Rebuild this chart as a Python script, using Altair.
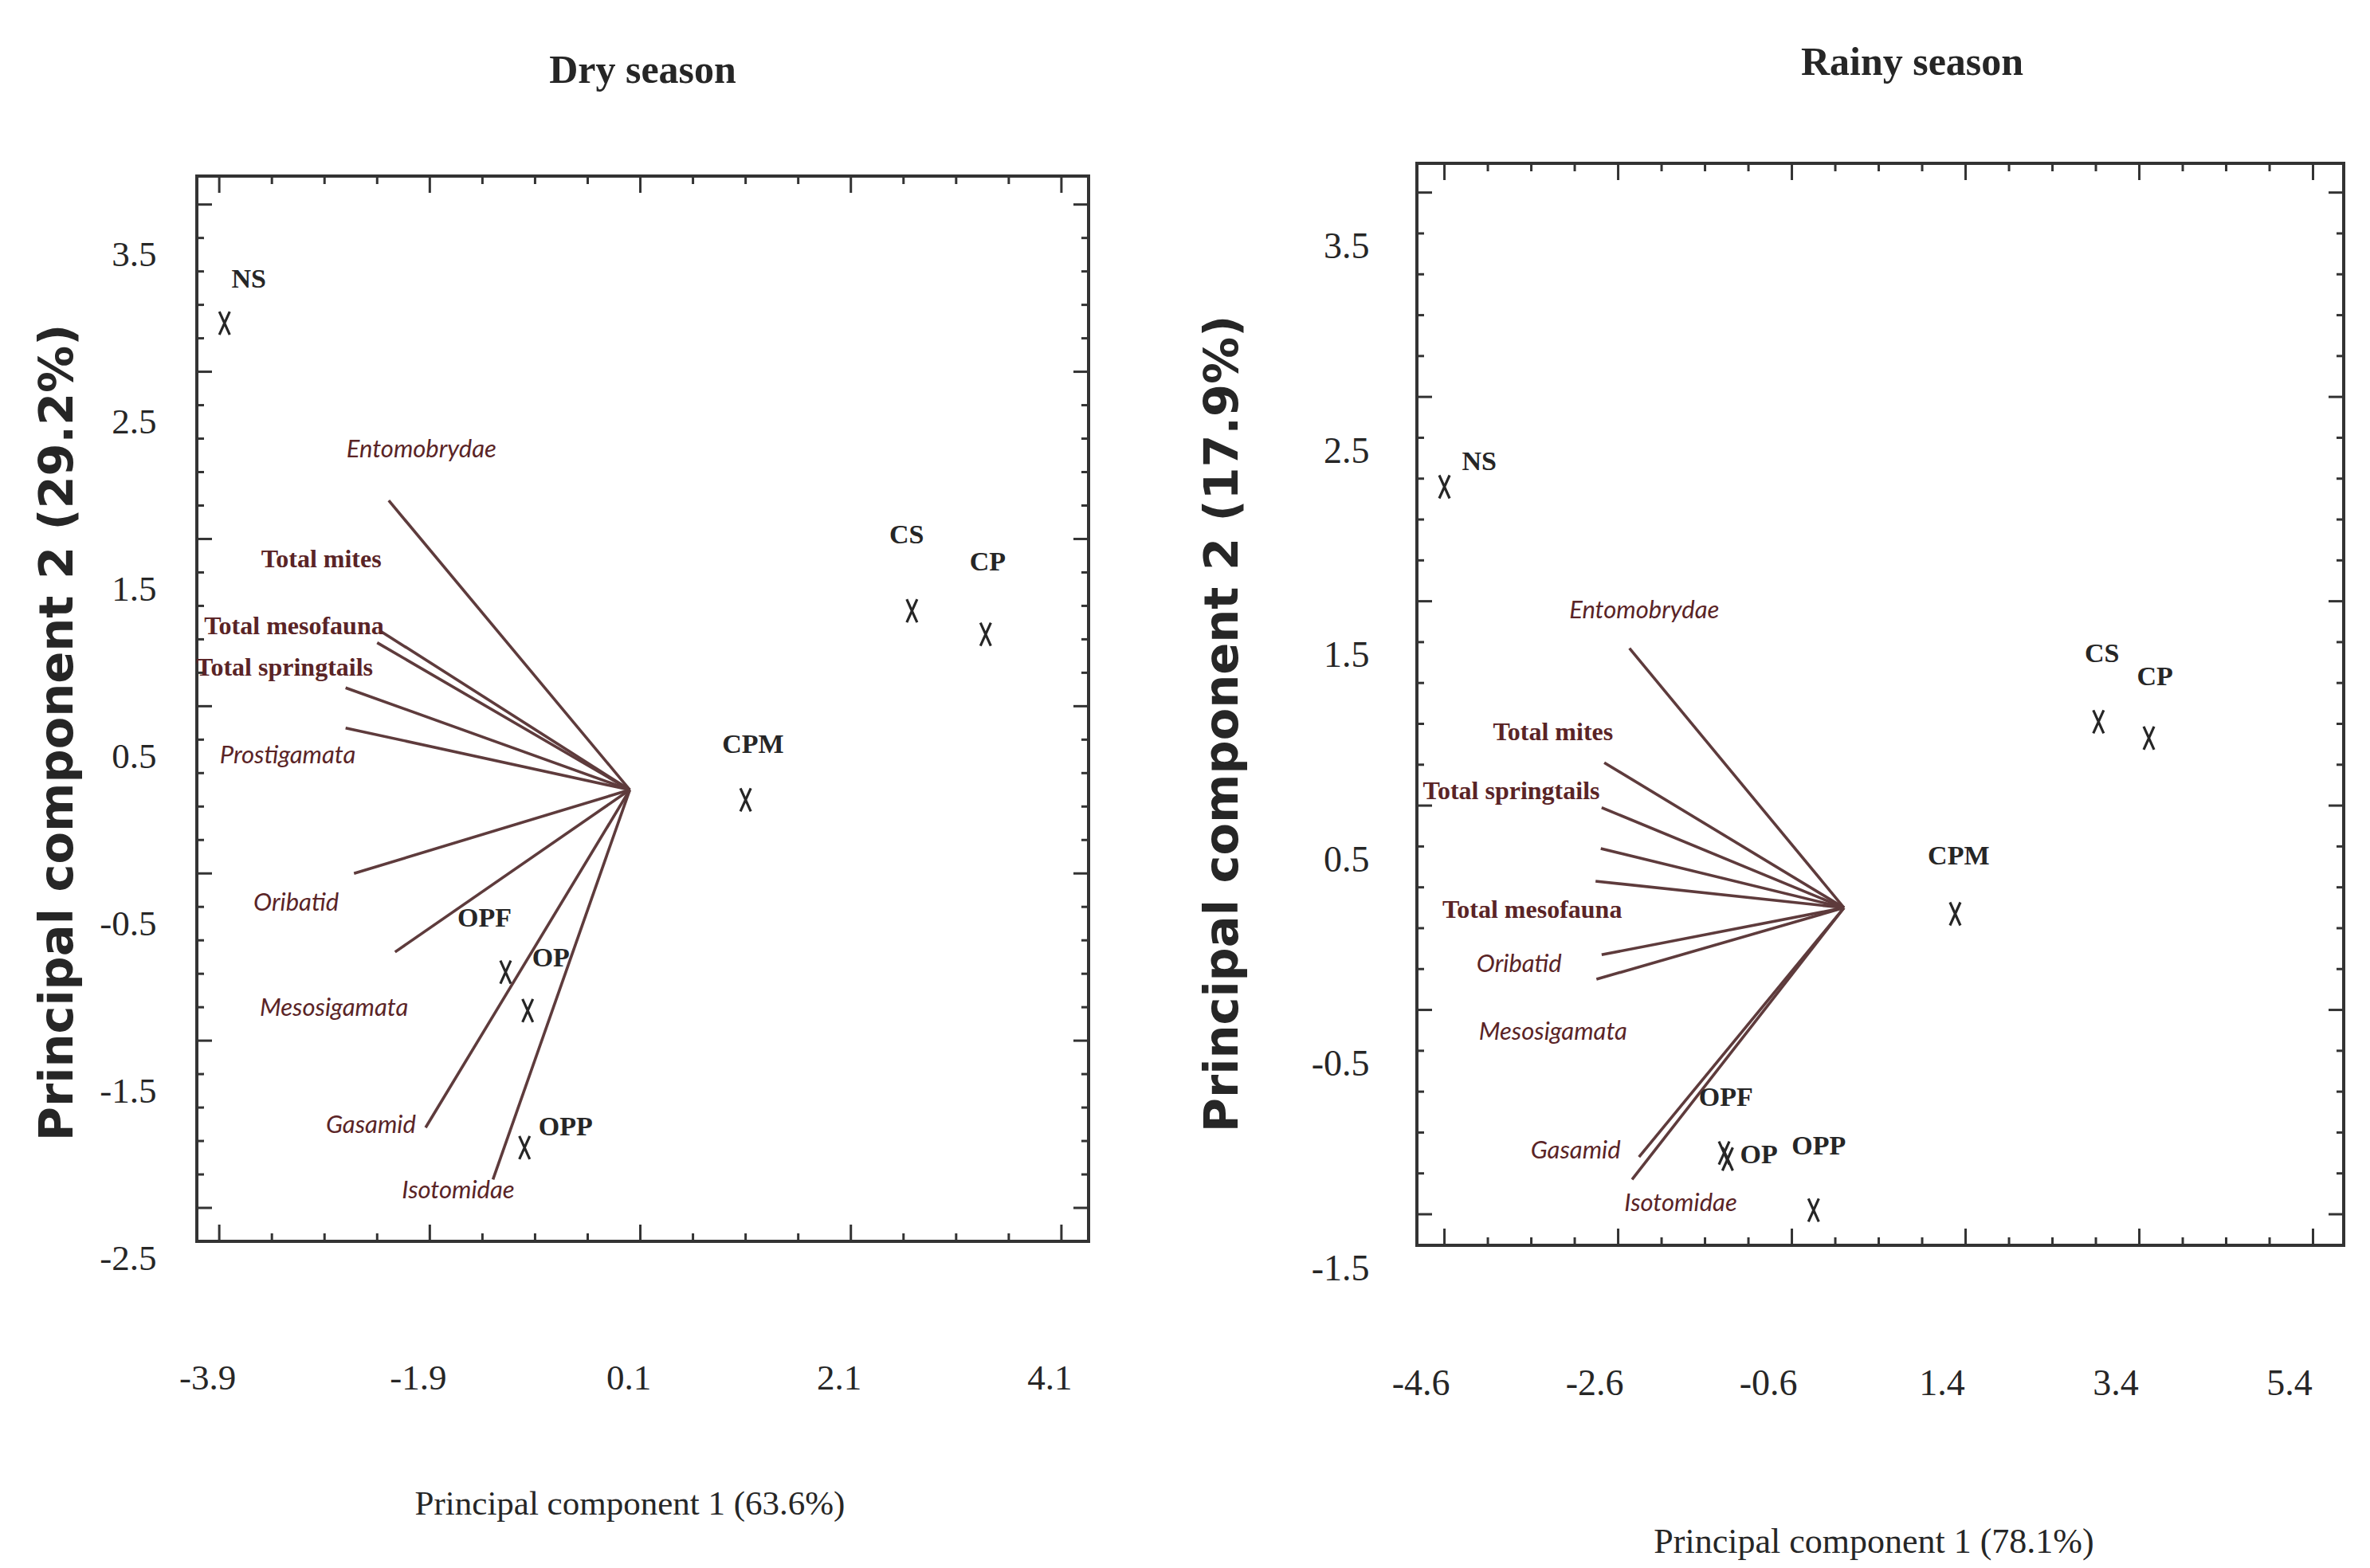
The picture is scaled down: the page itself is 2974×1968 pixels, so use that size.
import altair as alt
import pandas as pd

# ---------------- data ----------------
SITES = ["NS", "CS", "CP", "CPM", "OPF", "OP", "OPP"]

# Dry season: site scores and where their labels sit
DRY_PC1 = [-3.85, 2.68, 3.38, 1.10, -1.18, -0.97, -1.00]
DRY_PC2 = [2.79, 1.07, 0.93, -0.06, -1.09, -1.32, -2.14]
DRY_SITE_TXT_PC1 = [-3.62, 2.63, 3.40, 1.17, -1.38, -0.75, -0.61]
DRY_SITE_TXT_PC2 = [3.05, 1.52, 1.36, 0.27, -0.77, -1.01, -2.02]

# Dry season: variable loadings (vector tips) and their labels
DRY_VARS = ["Entomobrydae", "Total mites", "Total mesofauna", "Total springtails",
            "Prostigamata", "Oribatid", "Mesosigamata", "Gasamid", "Isotomidae"]
DRY_LOAD_PC1 = [-2.29, -2.37, -2.40, -2.70, -2.70, -2.62, -2.23, -1.94, -1.30]
DRY_LOAD_PC2 = [1.73, 0.95, 0.88, 0.61, 0.37, -0.50, -0.97, -2.02, -2.33]
DRY_VAR_LABELS = DRY_VARS
DRY_VAR_TXT_PC1 = [-1.98, -2.93, -3.19, -3.28, -3.25, -3.17, -2.81, -2.46, -1.63]
DRY_VAR_TXT_PC2 = [2.03, 1.38, 0.98, 0.73, 0.20, -0.68, -1.31, -2.01, -2.40]

# Rainy season: site scores and labels
RAINY_PC1 = [-4.60, 2.93, 3.51, 1.28, -1.38, -1.34, -0.35]
RAINY_PC2 = [2.06, 0.91, 0.83, -0.03, -1.20, -1.23, -1.48]
RAINY_SITE_TXT_PC1 = [-4.20, 2.97, 3.58, 1.32, -1.36, -0.98, -0.29]
RAINY_SITE_TXT_PC2 = [2.18, 1.24, 1.13, 0.25, -0.93, -1.21, -1.17]

# Rainy season: loadings and labels (Prostigamata vector has no label)
RAINY_VARS = ["Entomobrydae", "Total mites", "Total springtails", "Prostigamata",
              "Total mesofauna", "Oribatid", "Mesosigamata", "Gasamid", "Isotomidae"]
RAINY_LOAD_PC1 = [-2.47, -2.76, -2.79, -2.80, -2.86, -2.79, -2.85, -2.36, -2.44]
RAINY_LOAD_PC2 = [1.27, 0.71, 0.49, 0.29, 0.13, -0.23, -0.35, -1.22, -1.33]
RAINY_VAR_LABELS = ["Entomobrydae", "Total mites", "Total springtails", "Total mesofauna",
                    "Oribatid", "Mesosigamata", "Gasamid", "Isotomidae"]
RAINY_VAR_TXT_PC1 = [-2.30, -3.35, -3.83, -3.59, -3.74, -3.35, -3.09, -1.88]
RAINY_VAR_TXT_PC2 = [1.45, 0.86, 0.57, -0.01, -0.28, -0.61, -1.19, -1.45]

# tick labels
DRY_XTICKS = [-3.9, -1.9, 0.1, 2.1, 4.1]
DRY_YTICKS = [-2.5, -1.5, -0.5, 0.5, 1.5, 2.5, 3.5]
RAINY_XTICKS = [-4.6, -2.6, -0.6, 1.4, 3.4, 5.4]
RAINY_YTICKS = [-1.5, -0.5, 0.5, 1.5, 2.5, 3.5]

# ---------------- styling ----------------
SERIF = "Liberation Serif"
SANS_BOLD = "DejaVu Sans"
ITALIC_FONT = "Lato"
DARK = "#262626"
FRAME = "#333333"
VEC = "#5e3b3c"
VEC_TXT = "#5a2426"
XSHAPE = "M-0.45,-1L0.45,1M0.45,-1L-0.45,1"
LAB_EXPR = "(datum.value < 0 ? '-' : '') + format(abs(datum.value), '.1f')"


def minor_values(majors, step, n, lo, hi):
    out = []
    first = majors[0] - step * n * 2
    k = 0
    while True:
        v = round(first + step * k, 3)
        if v > hi:
            break
        if v >= lo and k % n != 0:
            out.append(v)
        k += 1
    return out


def panel(p):
    W, H = p["W"], p["H"]
    xs = alt.Scale(domain=p["xdom"], nice=False, zero=False)
    ys = alt.Scale(domain=p["ydom"], nice=False, zero=False)

    sites = pd.DataFrame({"site": SITES, "pc1": p["pc1"], "pc2": p["pc2"],
                          "tx": p["stx"], "ty": p["sty"]})
    loads = pd.DataFrame({"var": p["vars"], "pc1": p["l1"], "pc2": p["l2"]})
    vlabs = pd.DataFrame({"var": p["vlabels"], "tx": p["vtx"], "ty": p["vty"]})

    xaxis = alt.Axis(values=p["xticks"], labelExpr=LAB_EXPR, grid=False, domain=False,
                     ticks=False, labelPadding=p["xlabpad"], labelOffset=p["xlaboff"],
                     labelBaseline="middle", labelFont=SERIF, labelFontSize=p["labsize"],
                     labelColor=DARK, labelFlush=False, labelOverlap=False,
                     title=p["xtitle"], titleFont=SERIF, titleFontSize=p["xtitlesize"],
                     titleFontWeight="normal", titleColor=DARK, titleAngle=0,
                     titleAlign="center", titleBaseline="middle",
                     titleX=p["xtitleX"], titleY=p["xtitleY"])
    yaxis = alt.Axis(values=p["yticks"], labelExpr=LAB_EXPR, grid=False, domain=False,
                     ticks=False, labelPadding=p["ylabpad"], labelOffset=p["ylaboff"],
                     labelFont=SERIF, labelFontSize=p["labsize"], labelColor=DARK,
                     labelFlush=False, labelOverlap=False,
                     title=p["ytitle"], titleFont=SANS_BOLD, titleFontSize=59,
                     titleFontWeight="bold", titleColor=DARK, titleAngle=-90,
                     titleAlign="center", titleBaseline="middle",
                     titleX=p["ytitleX"], titleY=p["ytitleY"])

    def X(f):
        return alt.X(f, scale=xs, axis=xaxis)

    def Y(f):
        return alt.Y(f, scale=ys, axis=yaxis)

    vectors = alt.Chart(loads).transform_calculate(o="0").mark_rule(
        color=VEC, strokeWidth=3.6).encode(
        x=X("o:Q"), y=Y("o:Q"), x2="pc1:Q", y2="pc2:Q")

    vb = alt.Chart(vlabs).transform_filter("indexof(datum.var, 'Total') == 0").mark_text(
        font=SERIF, fontWeight="bold", fontSize=32, color=VEC_TXT,
        align="center", baseline="middle").encode(
        x=X("tx:Q"), y=Y("ty:Q"), text="var:N")
    vi = alt.Chart(vlabs).transform_filter("indexof(datum.var, 'Total') != 0").mark_text(
        font=ITALIC_FONT, fontStyle="italic", fontSize=31, color=VEC_TXT,
        align="center", baseline="middle").encode(
        x=X("tx:Q"), y=Y("ty:Q"), text="var:N")

    pts = alt.Chart(sites).mark_point(shape=XSHAPE, filled=False, size=841,
                                      strokeWidth=3.2, color=DARK, opacity=1).encode(
        x=X("pc1:Q"), y=Y("pc2:Q"))
    ptxt = alt.Chart(sites).mark_text(font=SERIF, fontWeight="bold", fontSize=34,
                                      color=DARK, align="center", baseline="middle").encode(
        x=X("tx:Q"), y=Y("ty:Q"), text="site:N")

    # inward ticks on all four sides
    layers = []
    xmin = minor_values(p["xticks"], 0.5, 4, p["xdom"][0], p["xdom"][1])
    ymin = minor_values(p["yticks"], 0.2, 5, p["ydom"][0], p["ydom"][1])
    for vals, ln in ((p["xticks"], 21), (xmin, 10)):
        d = pd.DataFrame({"v": vals})
        layers.append(alt.Chart(d).mark_rule(color=FRAME, strokeWidth=3).encode(
            x=X("v:Q"), y=alt.value(H), y2=alt.value(H - ln)))
        layers.append(alt.Chart(d).mark_rule(color=FRAME, strokeWidth=3).encode(
            x=X("v:Q"), y=alt.value(0), y2=alt.value(ln)))
    for vals, ln in ((p["yticks"], 19), (ymin, 9)):
        d = pd.DataFrame({"v": vals})
        layers.append(alt.Chart(d).mark_rule(color=FRAME, strokeWidth=3).encode(
            y=Y("v:Q"), x=alt.value(0), x2=alt.value(ln)))
        layers.append(alt.Chart(d).mark_rule(color=FRAME, strokeWidth=3).encode(
            y=Y("v:Q"), x=alt.value(W), x2=alt.value(W - ln)))

    layered = alt.layer(pts, *layers, vectors, vb, vi, ptxt).properties(
        width=W, height=H,
        title=alt.TitleParams(p["title"], font=SERIF, fontSize=50, fontWeight="bold",
                              color=DARK, anchor="middle", offset=p["toff"], dx=p["tdx"]))

    # an invisible strip above each panel sets how far down its title starts
    spacer = alt.Chart(pd.DataFrame({"a": [0]})).mark_point(opacity=0).properties(
        width=1, height=p["gap"],
        view=alt.ViewBackground(strokeOpacity=0, fillOpacity=0))
    return alt.vconcat(spacer, layered, spacing=0)


dry = panel(dict(
    W=1119, H=1337, xdom=[-4.113, 4.358], ydom=[-2.70, 3.67],
    pc1=DRY_PC1, pc2=DRY_PC2, stx=DRY_SITE_TXT_PC1, sty=DRY_SITE_TXT_PC2,
    vars=DRY_VARS, l1=DRY_LOAD_PC1, l2=DRY_LOAD_PC2,
    vlabels=DRY_VAR_LABELS, vtx=DRY_VAR_TXT_PC1, vty=DRY_VAR_TXT_PC2,
    xticks=DRY_XTICKS, yticks=DRY_YTICKS,
    xlabpad=171, xlaboff=-15, ylabpad=51, ylaboff=63, labsize=45,
    xtitle="Principal component 1 (63.6%)", xtitlesize=43, xtitleX=543, xtitleY=329,
    ytitle="Principal component 2 (29.2%)", ytitleX=-175, ytitleY=698,
    title="Dry season", toff=106, tdx=0, gap=14))

rainy = panel(dict(
    W=1163, H=1358, xdom=[-4.917, 5.753], ydom=[-1.652, 3.643],
    pc1=RAINY_PC1, pc2=RAINY_PC2, stx=RAINY_SITE_TXT_PC1, sty=RAINY_SITE_TXT_PC2,
    vars=RAINY_VARS, l1=RAINY_LOAD_PC1, l2=RAINY_LOAD_PC2,
    vlabels=RAINY_VAR_LABELS, vtx=RAINY_VAR_TXT_PC1, vty=RAINY_VAR_TXT_PC2,
    xticks=RAINY_XTICKS, yticks=RAINY_YTICKS,
    xlabpad=173, xlaboff=-30, ylabpad=60, ylaboff=68, labsize=46,
    xtitle="Principal component 1 (78.1%)", xtitlesize=44, xtitleX=573, xtitleY=372,
    ytitle="Principal component 2 (17.9%)", ytitleX=-244, ytitleY=703,
    title="Rainy season", toff=100, tdx=40, gap=1))

chart = alt.hconcat(dry, rainy, spacing=133).properties(
    padding={"left": 33, "top": 36, "right": 0, "bottom": 0},
    background="white",
).configure_view(stroke=FRAME, strokeWidth=4)

chart.save("out.html", embed_options={"renderer": "svg", "actions": False})
